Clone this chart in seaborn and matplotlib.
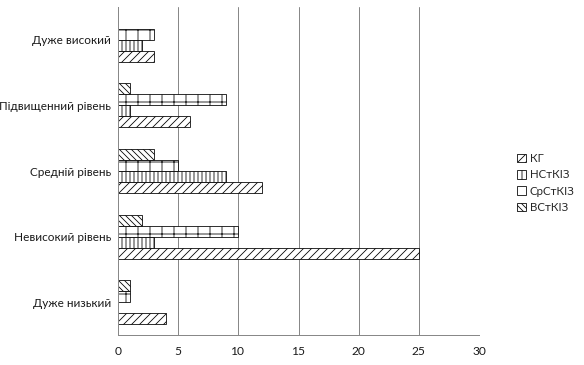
import pandas as pd
import matplotlib
matplotlib.use("Agg")
import matplotlib.pyplot as plt
import seaborn as sns
from matplotlib.patches import Patch

# data
categories = ["Дуже високий", "Підвищенний рівень", "Средній рівень",
              "Невисокий рівень", "Дуже низький"]
kg = [3, 6, 12, 25, 4]
nst = [2, 1, 9, 3, 0]
srst = [3, 9, 5, 10, 1]
vst = [0, 1, 3, 2, 1]

series_names = ["КГ", "НСтКІЗ", "СрСтКІЗ", "ВСтКІЗ"]
hatches = {"КГ": "///", "НСтКІЗ": "|||", "СрСтКІЗ": "+", "ВСтКІЗ": "\\\\\\\\"}

df = pd.DataFrame({
    "level": categories * 4,
    "group": ["КГ"] * 5 + ["НСтКІЗ"] * 5 + ["СрСтКІЗ"] * 5 + ["ВСтКІЗ"] * 5,
    "value": kg + nst + srst + vst,
})

sns.set_style("white")
plt.rcParams["font.family"] = ["Lato", "DejaVu Sans"]
plt.rcParams["hatch.linewidth"] = 0.8
plt.rcParams["hatch.color"] = "black"

fig = plt.figure(figsize=(584 / 72, 365 / 72), dpi=72)
ax = fig.add_axes([118 / 584, 30 / 365, (479 - 118) / 584, (358 - 30) / 365])

# Excel-style ordering: the last series sits on top inside each group
draw_order = ["ВСтКІЗ", "СрСтКІЗ", "НСтКІЗ", "КГ"]
sns.barplot(data=df, x="value", y="level", hue="group", hue_order=draw_order,
            order=categories, orient="h", palette=["white"] * 4,
            edgecolor="black", linewidth=0.8, width=0.67, legend=False, ax=ax)

for cont, name in zip(ax.containers, draw_order):
    for bar in cont:
        bar.set_hatch(hatches[name])

ax.set_xlim(0, 30)
ax.set_xticks(range(0, 31, 5))
ax.set_ylim(4.5, -0.5)
ax.set_xlabel("")
ax.set_ylabel("")

# category labels at centres, tick marks at group boundaries
ax.set_yticks(range(len(categories)))
ax.set_yticklabels(categories)
ax.set_yticks([i - 0.5 for i in range(len(categories) + 1)], minor=True)
ax.tick_params(axis="y", which="major", length=0, pad=7, labelsize=11.7, colors="#1a1a1a")
ax.tick_params(axis="y", which="minor", length=5, color="#888888", width=1)
ax.tick_params(axis="x", length=5, width=1, color="#888888", labelsize=12,
               labelcolor="#1a1a1a", pad=6)

ax.grid(axis="x", color="#888888", linewidth=1)
ax.set_axisbelow(True)
for s in ["top", "right"]:
    ax.spines[s].set_visible(False)
for s in ["left", "bottom"]:
    ax.spines[s].set_color("#888888")
    ax.spines[s].set_linewidth(1)

# legend swatches as in the reference (the grid pattern is too coarse to show in a small box)
legend_hatch = {"КГ": "///", "НСтКІЗ": "|", "СрСтКІЗ": "", "ВСтКІЗ": "\\\\\\\\"}
handles = [Patch(facecolor="white", edgecolor="black", linewidth=0.8,
                 hatch=legend_hatch[n], label=n) for n in series_names]
fig.legend(handles=handles, loc="center left", bbox_to_anchor=(507 / 584, 1 - 183 / 365),
           frameon=False, fontsize=11.5, handlelength=0.75, handleheight=0.75,
           handletextpad=0.35, labelspacing=0.45)

fig.savefig("out.png", dpi=72)
